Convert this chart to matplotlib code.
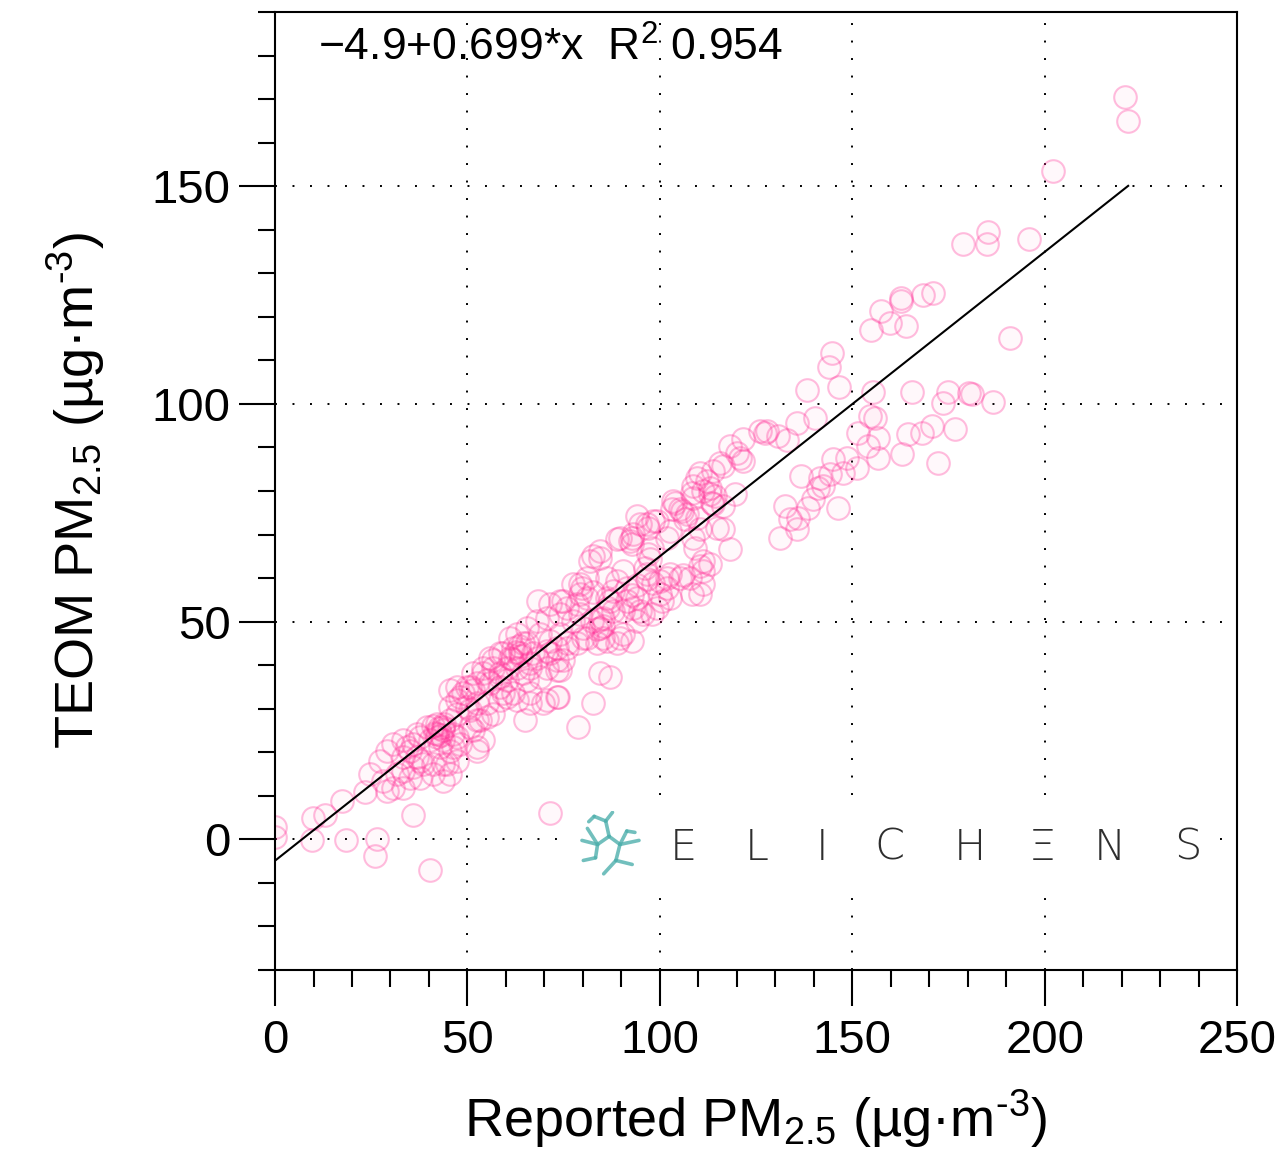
import numpy as np
import matplotlib
matplotlib.use("Agg")
import matplotlib.pyplot as plt
from matplotlib.ticker import MultipleLocator
from matplotlib.patches import Rectangle

plt.rcParams['font.family'] = ['Liberation Sans', 'DejaVu Sans']
plt.rcParams['mathtext.fontset'] = 'custom'
plt.rcParams['mathtext.rm'] = 'Liberation Sans'
plt.rcParams['mathtext.it'] = 'Liberation Sans:italic'

# fit shown in the corner of the chart
fit_intercept = -4.9
fit_slope = 0.699
fit_r2 = 0.954

# reported PM2.5 (x) vs TEOM PM2.5 (y)
reported_pm = [
    220.9, 221.7, 202.2, 178.8, 185.3, 185.0, 195.9, 191.0, 162.7, 162.7,
    168.4, 171.0, 157.5, 159.8, 164.0, 154.9, 144.8, 144.0, 146.6, 138.3,
    155.4, 165.5, 174.9, 173.6, 181.1, 180.4, 186.6, 140.3, 135.7, 127.3,
    127.9, 130.7, 133.1, 154.6, 155.9, 151.5, 156.7, 154.1, 156.7, 164.5,
    168.1, 170.7, 176.7, 162.9, 172.3, 145.0, 148.6, 151.2, 147.6, 144.2,
    141.6, 141.1, 142.4, 136.7, 146.3, 132.5, 133.8, 135.9, 138.5, 139.8,
    135.7, 131.2,
    126.0, 121.6, 118.2, 120.1, 120.8, 121.6, 115.6, 116.4, 113.8, 110.4,
    109.7, 112.3, 113.0, 111.2, 108.6, 108.4, 114.3, 113.6, 119.5, 116.4,
    104.0, 103.2, 105.8, 106.5, 109.7, 110.4, 108.6, 114.9, 116.4, 118.2,
    111.2, 110.4, 109.1, 102.6, 101.9, 98.0, 96.9, 94.1, 94.9, 96.9,
    98.2, 92.8, 92.8, 88.9, 84.5, 82.6, 97.5, 96.2, 100.1, 98.2,
    96.7, 102.6, 101.9, 106.0, 111.2, 108.4, 100.6, 94.1, 92.8, 88.9,
    87.8, 87.1, 86.5, 82.6, 81.1, 79.3, 91.5, 90.4, 94.9, 94.1,
    98.0, 99.3, 84.5, 85.2, 83.7, 79.3, 77.4, 75.9, 74.8, 80.0,
    78.5, 75.9, 85.2, 88.9, 90.4, 92.8,
    113.0, 108.6, 113.8, 103.4, 105.2, 107.1, 96.7, 99.3, 93.0, 92.3,
    89.7, 84.5, 81.9, 81.1, 79.8, 77.4, 86.3, 90.4, 91.5, 96.7,
    101.9, 105.2, 107.8, 111.2, 113.0, 110.4, 100.1, 102.6, 94.1, 93.0,
    95.6, 86.3, 87.8, 85.2, 84.5, 79.3, 78.5, 74.1, 71.5, 68.3,
    74.1, 80.0, 82.4, 70.7, 68.1, 65.5, 62.9, 61.1, 68.9, 71.5,
    74.1, 75.9, 81.1, 83.7, 86.3, 89.7, 65.5, 67.0, 63.7, 61.1,
    71.5, 73.3, 70.7, 74.1, 66.3, 68.9, 65.5, 60.3, 58.5, 56.7,
    58.5, 55.9, 60.3, 61.8, 58.5, 55.9, 54.1, 52.5, 51.5, 84.5,
    87.1, 82.6, 78.7, 73.5, 69.6, 66.3, 65.0, 58.5, 60.3, 56.7,
    55.1, 49.9, 48.1, 49.9, 47.3, 45.5, 52.5, 53.3, 51.5, 43.7,
    42.1, 39.5, 37.7, 35.9, 46.3, 48.1, 45.5, 42.9, 54.1, 52.5,
    34.3, 33.3, 37.7, 41.1, 43.7, 45.5,
    0.0, 0.0, 9.6, 9.9, 13.0, 17.4, 18.5, 23.4, 24.7, 26.5,
    26.0, 28.1, 29.1, 30.7, 33.3, 31.7, 33.3, 35.9, 40.3, 27.3,
    29.1, 30.7, 33.3, 35.1, 36.9, 35.9, 38.5, 35.1, 37.7, 41.1,
    43.7, 36.9, 42.1, 43.7, 40.3, 43.7, 47.3, 46.3, 44.7, 47.3,
    45.5, 47.3, 48.9, 50.7, 47.3, 45.5, 50.7, 52.5, 55.1, 50.7,
    52.5, 51.5, 54.1, 56.7, 59.3, 55.1, 58.5, 61.8, 64.4, 62.9,
    66.3, 64.4, 68.1, 70.7, 73.3, 74.8, 73.3, 59.3, 62.9, 66.3,
    70.7, 73.3, 71.5,
    41.5, 42.5, 43.0, 41.0, 44.0, 42.0, 62.5, 63.5, 64.0, 61.5,
]
teom_pm = [
    170.4, 164.9, 153.4, 136.7, 139.4, 136.7, 137.8, 115.1, 124.3, 123.6,
    125.0, 125.5, 121.3, 118.6, 117.9, 117.0, 111.7, 108.5, 103.9, 103.2,
    102.8, 102.8, 102.8, 100.2, 102.3, 102.5, 100.5, 96.8, 95.6, 93.3,
    93.8, 92.7, 91.7, 97.2, 96.8, 93.3, 92.2, 90.4, 87.6, 93.1,
    93.3, 95.0, 94.3, 88.5, 86.5, 87.4, 87.6, 85.3, 84.2, 83.9,
    83.0, 80.7, 81.2, 83.5, 76.1, 76.6, 73.6, 73.9, 76.1, 78.2,
    71.3, 69.3,
    93.8, 92.0, 90.4, 88.8, 87.6, 86.9, 86.5, 85.8, 84.6, 84.2,
    83.0, 82.3, 80.7, 80.0, 81.2, 79.6, 78.9, 77.3, 79.4, 76.6,
    77.3, 75.9, 75.5, 73.6, 73.9, 71.3, 69.3, 71.6, 71.3, 66.7,
    64.0, 62.8, 67.0, 70.9, 69.3, 67.0, 65.6, 74.3, 72.5, 71.6,
    73.2, 69.3, 67.9, 69.0, 66.3, 65.1, 64.4, 62.4, 59.4, 58.9,
    59.9, 61.0, 57.8, 60.6, 58.7, 56.4, 54.8, 58.3, 56.0, 59.4,
    57.1, 54.8, 53.2, 56.7, 55.5, 58.7, 54.8, 52.5, 52.5, 50.2,
    51.8, 53.2, 50.7, 49.1, 48.4, 51.8, 50.2, 53.2, 54.8, 46.3,
    45.0, 44.0, 46.3, 45.0, 47.2, 45.6,
    79.4, 78.4, 77.1, 77.8, 75.9, 74.8, 72.5, 73.2, 70.2, 68.6,
    69.3, 64.7, 64.0, 60.1, 57.8, 58.7, 60.1, 61.7, 57.8, 61.0,
    60.1, 60.1, 60.1, 61.7, 63.3, 56.4, 56.4, 55.5, 55.5, 53.2,
    51.8, 55.5, 52.5, 50.9, 48.6, 56.4, 54.1, 54.8, 54.1, 54.8,
    51.8, 48.6, 50.2, 50.9, 50.2, 48.6, 47.2, 46.3, 47.2, 45.6,
    47.2, 45.0, 46.3, 45.0, 45.6, 46.3, 45.0, 42.7, 42.7, 41.7,
    42.7, 41.1, 39.4, 38.8, 39.4, 37.2, 36.5, 39.4, 38.1, 39.4,
    42.7, 41.7, 36.5, 33.5, 34.9, 35.8, 38.1, 35.8, 34.2, 38.1,
    37.2, 31.4, 25.7, 32.6, 31.2, 31.2, 27.3, 31.9, 32.6, 28.9,
    31.2, 34.9, 32.6, 30.3, 28.9, 27.3, 31.2, 27.3, 25.0, 25.7,
    24.3, 25.7, 23.4, 22.0, 24.3, 22.0, 20.4, 21.1, 22.7, 20.4,
    21.1, 18.8, 18.1, 17.4, 17.4, 15.1,
    2.8, 0.5, -0.2, 5.0, 5.5, 8.9, -0.2, 10.8, 15.1, 0.0,
    -3.9, 13.5, 11.2, 11.9, 11.9, 15.1, 15.8, 5.5, -7.1, 18.1,
    20.4, 22.0, 22.7, 20.4, 18.8, 16.5, 17.4, 14.2, 14.2, 15.1,
    13.5, 24.3, 26.6, 25.0, 22.7, 22.7, 23.4, 21.1, 17.4, 18.1,
    30.3, 31.9, 33.5, 34.9, 34.9, 34.2, 29.6, 27.3, 28.0, 25.7,
    21.1, 38.1, 39.4, 41.1, 42.7, 36.5, 37.2, 44.0, 45.0, 39.4,
    40.4, 38.1, 41.7, 43.3, 44.0, 41.1, 38.8, 33.5, 31.9, 33.5,
    31.9, 32.6, 6.0,
    24.5, 25.5, 24.0, 26.0, 26.5, 23.5, 43.0, 44.5, 42.0, 41.5,
]

x_ticks = [0, 50, 100, 150, 200, 250]
y_ticks = [0, 50, 100, 150]

logo_letters = ['E', 'L', 'I', 'C', 'H', '\u039e', 'N', 'S']
logo_letter_x = [0.424, 0.501, 0.569, 0.639, 0.722, 0.798, 0.868, 0.949]


def draw_logo(fig, ax):
    # white patch hides the dotted grid behind the logo
    ax.add_patch(Rectangle((0.294, 0.081), 0.683, 0.088, transform=ax.transAxes,
                           facecolor='white', edgecolor='none', zorder=1))
    for letter, lx in zip(logo_letters, logo_letter_x):
        ax.text(lx, 0.128, letter, transform=ax.transAxes, ha='center', va='center',
                fontsize=31, color='#2e2e2e', family=['DejaVu Sans'],
                fontweight='light', zorder=3)

    # small teal molecule icon
    icon = fig.add_axes([0.449, 0.238, 0.053, 0.058])
    icon.set_xlim(0, 1)
    icon.set_ylim(0, 1)
    icon.axis('off')
    bonds = [
        [(0.10, 0.56), (0.33, 0.50)], [(0.33, 0.50), (0.50, 0.62)],
        [(0.50, 0.62), (0.45, 0.85)], [(0.45, 0.85), (0.28, 0.92)],
        [(0.45, 0.85), (0.55, 0.98)], [(0.50, 0.62), (0.66, 0.50)],
        [(0.66, 0.50), (0.94, 0.56)], [(0.66, 0.50), (0.76, 0.70)],
        [(0.66, 0.50), (0.60, 0.26)], [(0.60, 0.26), (0.42, 0.06)],
        [(0.60, 0.26), (0.84, 0.20)], [(0.33, 0.50), (0.30, 0.30)],
        [(0.30, 0.30), (0.12, 0.26)], [(0.18, 0.74), (0.33, 0.50)],
        [(0.76, 0.70), (0.88, 0.68)], [(0.28, 0.92), (0.20, 0.84)],
    ]
    for (x0, y0), (x1, y1) in bonds:
        icon.plot([x0, x1], [y0, y1], color='#4fb0ad', lw=2.6, alpha=0.8,
                  solid_capstyle='round')


fig = plt.figure(figsize=(12.81, 11.52), dpi=100)
ax = fig.add_axes([0.2147, 0.158, 0.7510, 0.8316])

ax.scatter(reported_pm, teom_pm, s=265, facecolors=(1, 0.2, 0.6, 0.03),
           edgecolors=(1, 0.2, 0.6, 0.32), linewidths=1.5, zorder=2)

# regression line from the fit parameters
line_x = np.array([0, max(reported_pm)])
ax.plot(line_x, fit_intercept + fit_slope * line_x, color='black', lw=1.5, zorder=3)

ax.text(0.045, 0.949, '\u22124.9+0.699*x  R$^{2}$ 0.954', transform=ax.transAxes,
        fontsize=32, va='baseline', ha='left')

ax.set_xlim(0, 250)
ax.set_ylim(-30, 190)
ax.set_xticks(x_ticks)
ax.set_yticks(y_ticks)
ax.xaxis.set_minor_locator(MultipleLocator(10))
ax.yaxis.set_minor_locator(MultipleLocator(10))
ax.tick_params(which='major', direction='out', length=26, width=1.5,
               labelsize=34, pad=6)
ax.tick_params(axis='x', which='major', pad=9)
ax.tick_params(which='minor', direction='out', length=12, width=1.5)
for spine in ax.spines.values():
    spine.set_linewidth(1.5)

ax.set_axisbelow(True)
ax.grid(which='major', color='black', linestyle=(0, (1, 8)), linewidth=1.4)

ax.set_xlabel('Reported PM$_{2.5}$ (\u00b5g\u00b7m$^{\u20103}$)', fontsize=39, labelpad=18)
ax.set_ylabel('TEOM PM$_{2.5}$ (\u00b5g\u00b7m$^{\u20103}$)', fontsize=39, labelpad=32)

draw_logo(fig, ax)

fig.savefig('out.png', dpi=100)
